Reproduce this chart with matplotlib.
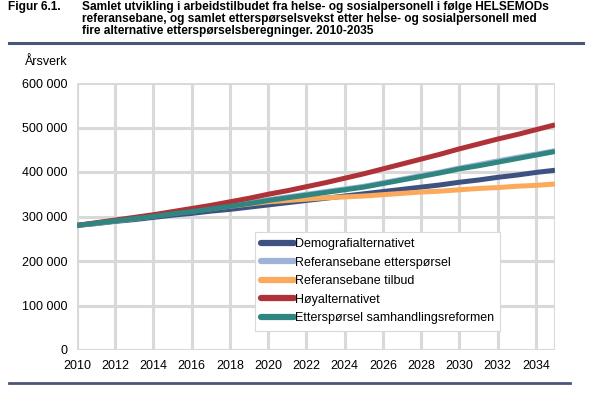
import numpy as np
import matplotlib.pyplot as plt
from matplotlib.lines import Line2D

years = list(range(2010, 2036))

# in thousand årsverk
demografi = [280, 284, 289, 293, 298, 303, 307, 312, 316, 321, 326, 331, 336, 341, 346, 351,
             356, 361, 366, 371, 377, 382, 388, 393, 399, 404]
ref_ettersp = [280, 285, 290, 295, 301, 307, 312, 318, 324, 331, 338, 344, 350, 356, 362, 368,
               376, 384, 392, 400, 409, 417, 425, 433, 440, 448]
ref_tilbud = [280, 285, 291, 296, 302, 308, 313, 318, 323, 328, 333, 336, 339, 342, 344, 346,
              349, 352, 355, 357, 360, 363, 365, 368, 370, 373]
hoy = [280, 286, 292, 298, 304, 311, 318, 325, 333, 341, 350, 358, 367, 376, 386, 396,
       407, 418, 429, 440, 452, 463, 474, 484, 495, 506]
samhandling = [280, 285, 290, 295, 300, 306, 311, 317, 323, 329, 336, 342, 348, 354, 360, 366,
               374, 382, 390, 398, 407, 414, 422, 430, 438, 446]

series = [
    ("Demografialternativet", demografi, "#3e5282"),
    ("Referansebane etterspørsel", ref_ettersp, "#9fb2d8"),
    ("Referansebane tilbud", ref_tilbud, "#fbaa5c"),
    ("Høyalternativet", hoy, "#ae3237"),
    ("Etterspørsel samhandlingsreformen", samhandling, "#2f8680"),
]

plt.rcParams['font.family'] = ['Liberation Sans', 'DejaVu Sans']
W, H = 589, 401

fig = plt.figure(figsize=(W/100, H/100), dpi=100)
ax = fig.add_axes([77/W, 1-350/H, (555-77)/W, (350-83)/H])

for name, vals, col in series:
    ax.plot(years, np.array(vals)*1000, color=col, lw=3.6, solid_capstyle='butt', label=name)

ax.set_xlim(2010, 2035)
ax.set_ylim(0, 600000)
ax.set_xticks(range(2010, 2036, 2))
ax.set_yticks(range(0, 600001, 100000))
ax.set_yticklabels([f"{v:,}".replace(",", " ") for v in range(0, 600001, 100000)])
ax.tick_params(length=0, labelsize=9, pad=7)
ax.grid(True, color="#d9d9d9", lw=2.2)
ax.set_axisbelow(True)
for s in ax.spines.values():
    s.set_visible(False)
for xv in (2010, 2035):
    ax.axvline(xv, color="#d9d9d9", lw=2.2, zorder=0)
ax.axhline(0, color="#d9d9d9", lw=2.2, zorder=0)

handles = [Line2D([], [], color=c, lw=4.5, solid_capstyle='round') for _, _, c in series]
leg = ax.legend(handles, [n for n, _, _ in series], loc="upper left",
                bbox_to_anchor=((255-77)/478, (350-232)/267), fontsize=9,
                handlelength=2.6, handletextpad=0.1, labelspacing=0.52,
                fancybox=False, framealpha=1, borderpad=0.5, borderaxespad=0)
leg.get_frame().set_edgecolor("#d9d9d9")
leg.get_frame().set_linewidth(0.8)

fig.text(25/W, 1-62/H, "Årsverk", fontsize=9, va="center", ha="left")

fig.text(8/W, 1-1/H, "Figur 6.1.", fontsize=8.6, fontweight="bold", va="top")
title = ("Samlet utvikling i arbeidstilbudet fra helse- og sosialpersonell i følge HELSEMODs\n"
         "referansebane, og samlet etterspørselsvekst etter helse- og sosialpersonell med\n"
         "fire alternative etterspørselsberegninger. 2010-2035")
fig.text(82/W, 1-1/H, title, fontsize=8.6, fontweight="bold", va="top", linespacing=1.0)

fig.add_artist(Line2D([9/W, 583/W], [1-43/H, 1-43/H], color="#4a5679", lw=2.2))
fig.add_artist(Line2D([9/W, 570/W], [1-383/H, 1-383/H], color="#4a5679", lw=2.0))

fig.savefig("out.png", dpi=100)
